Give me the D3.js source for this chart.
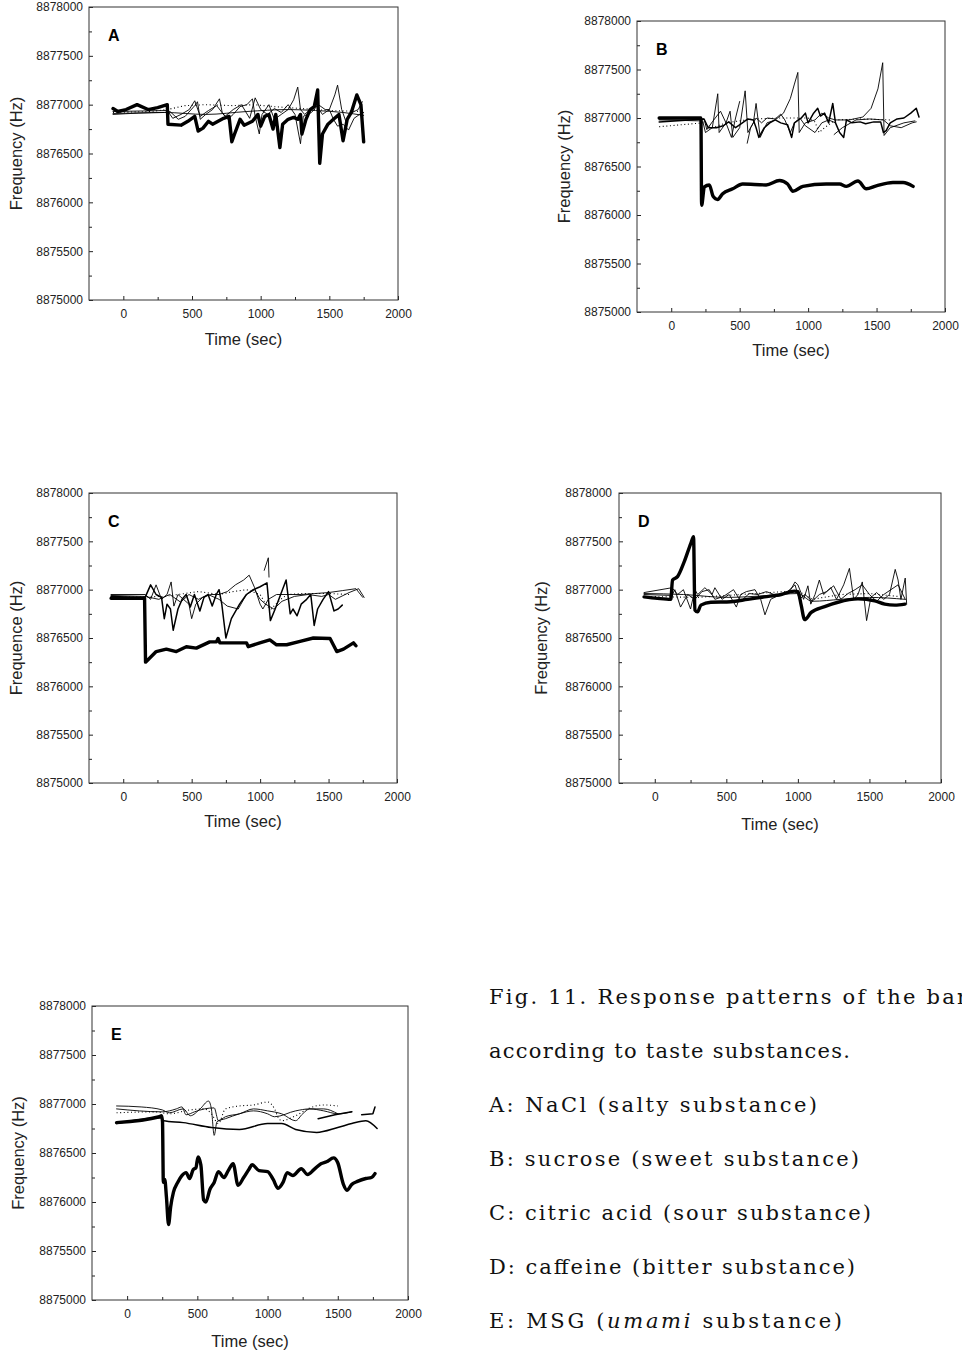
<!DOCTYPE html>
<html>
<head>
<meta charset="utf-8">
<script src="https://cdn.jsdelivr.net/npm/d3@7"></script>
<style>
  body { margin: 0; background: #fff; }
  svg { display: block; }
</style>
</head>
<body>
<div id="chart"></div>
<script>
// shared tick values
const xMajor = [0, 500, 1000, 1500, 2000];
const xMinor = [250, 750, 1250, 1750];
const yMajor = [8875000, 8875500, 8876000, 8876500, 8877000, 8877500, 8878000];
const yMinor = [8875250, 8875750, 8876250, 8876750, 8877250, 8877750];
const xDomain = [-250, 2000];
const yDomain = [8875000, 8878000];

// A: NaCl  [time (sec), frequency (Hz)]
const aThick = [[-75,8876960],[-40,8876930],[20,8876950],[100,8877000],[180,8876950],[250,8876970],[320,8877000],[325,8876800],[420,8876790],[470,8876830],[520,8876880],[545,8876730],[580,8876760],[620,8876830],[650,8876800],[690,8876830],[730,8876860],[770,8876880],[790,8876620],[810,8876700],[850,8876850],[880,8876790],[940,8876830],[980,8876900],[1000,8876780],[1030,8876880],[1060,8876900],[1090,8876750],[1110,8876900],[1140,8876560],[1160,8876800],[1200,8876850],[1240,8876870],[1270,8876850],[1290,8876900],[1300,8876700],[1330,8876850],[1360,8876950],[1390,8876980],[1415,8877150],[1430,8876400],[1450,8876700],[1490,8876800],[1530,8876850],[1570,8876900],[1600,8876630],[1630,8876850],[1660,8876920],[1700,8877100],[1730,8877000],[1750,8876620]];
const aThin1 = [[-75,8876910],[300,8876920],[340,8876930],[400,8876850],[450,8876880],[520,8876990],[540,8877030],[560,8876850],[600,8876900],[650,8876950],[700,8877060],[720,8876920],[760,8876850],[800,8876900],[850,8876980],[900,8877000],[940,8877060],[960,8876880],[990,8876700],[1010,8876900],[1060,8877000],[1100,8876850],[1150,8876900],[1200,8876950],[1240,8877050],[1270,8877180],[1290,8876950],[1320,8876900],[1360,8876950],[1400,8877000],[1450,8876900],[1500,8876950],[1540,8877100],[1560,8877200],[1590,8876950],[1620,8876830],[1650,8876900],[1680,8876930],[1710,8876950],[1740,8877030]];
const aThin2 = [[-75,8876930],[320,8876940],[360,8876860],[420,8876900],[480,8876950],[520,8877040],[560,8876880],[620,8876940],[680,8876990],[740,8876880],[800,8876950],[860,8877000],[920,8876860],[960,8877070],[1000,8876950],[1050,8876900],[1100,8876960],[1150,8876920],[1200,8877000],[1250,8876900],[1290,8876600],[1310,8876880],[1370,8876920],[1420,8877000],[1470,8876950],[1500,8876950],[1530,8876850],[1560,8876780],[1600,8876800],[1640,8876740],[1680,8876860],[1720,8876900],[1750,8876920]];
const aSmooth = [[-75,8876900],[300,8876920],[600,8876900],[900,8876930],[1200,8876950],[1400,8876940],[1600,8876920],[1750,8876890]];
const aDotted = [[-75,8876920],[200,8876930],[320,8876950],[450,8876990],[600,8877000],[800,8876990],[950,8877000],[1100,8876980],[1300,8876960],[1500,8876940],[1750,8876930]];

// B: sucrose
const bThick = [[-88,8877000],[217,8877000],[222,8876100],[242,8876290],[278,8876310],[307,8876190],[339,8876160],[376,8876220],[449,8876270],[522,8876320],[693,8876310],[791,8876355],[850,8876320],[889,8876245],[962,8876295],[1132,8876320],[1230,8876320],[1279,8876295],[1364,8876350],[1425,8876270],[1498,8876300],[1620,8876335],[1694,8876335],[1767,8876295]];
const bThin1 = [[-88,8876980],[230,8876970],[250,8876850],[300,8876900],[340,8877250],[350,8876850],[400,8876950],[430,8877070],[450,8876800],[500,8876900],[540,8877280],[560,8876850],[600,8876950],[620,8877150],[650,8876800],[700,8876950],[760,8876980],[820,8877050],[870,8877200],[900,8877350],[925,8877470],[935,8876850],[980,8876950],[1050,8876980],[1100,8877050],[1150,8877000],[1200,8876980],[1300,8876980],[1400,8877010],[1460,8877100],[1510,8877300],[1545,8877570],[1555,8876820],[1600,8876900],[1700,8876950],[1780,8876970]];
const bThin2 = [[-88,8876990],[240,8876990],[260,8876880],[300,8876960],[360,8877070],[400,8876950],[440,8876800],[470,8877000],[500,8877170],null,[555,8876740],[580,8876900],[620,8877000],[660,8876950],[700,8877000],[760,8876990],[800,8877040],[830,8876980],[870,8876850],[900,8876950],[940,8877000],[980,8876920],[1050,8876850],[1100,8876950],[1150,8876980],[1200,8876950],null,[1190,8876830],[1250,8876900],[1350,8876980],[1450,8876990],[1550,8876980],[1600,8876920],[1680,8876900],[1760,8876950],[1790,8876960]];
const bMid = [[-88,8876960],[240,8876990],[270,8876900],[330,8876900],[380,8876920],[420,8876960],[470,8876900],[520,8876950],[560,8876990],[600,8876980],[620,8876900],[640,8876800],[680,8876900],[720,8876950],[760,8876980],[800,8876950],[850,8876930],[880,8876800],[900,8876950],[950,8877000],[980,8877050],[1000,8876950],[1040,8877050],[1070,8877100],[1090,8877020],[1120,8877050],[1150,8876950],[1180,8877150],[1200,8876950],[1230,8876850],[1260,8876800],[1280,8876980],[1320,8876950],[1380,8876960],[1420,8876940],[1480,8876960],[1530,8876960],[1550,8876850],[1570,8876870],[1600,8876950],[1650,8876990],[1700,8877000],[1750,8877050],[1790,8877100],[1810,8877010]];
const bDotted = [[-88,8876910],[230,8876950],[300,8876900],[400,8876950],[600,8876990],[800,8877000],[1000,8877000],[1050,8876960],[1080,8876850],[1120,8876900],[1200,8876980],[1400,8876990],[1600,8876980]];

// C: citric acid
const cThick = [[-89,8876910],[156,8876910],[163,8876250],[192,8876290],[241,8876360],[315,8876385],[388,8876360],[461,8876410],[534,8876395],[632,8876460],[681,8876460],[693,8876495],[706,8876450],[901,8876450],[913,8876410],[998,8876450],[1071,8876480],[1120,8876430],[1194,8876430],[1292,8876465],[1389,8876500],[1511,8876495],[1560,8876360],[1609,8876385],[1682,8876450],[1700,8876420]];
const cMid = [[-89,8876930],[160,8876920],[200,8877050],[240,8876950],[280,8876920],[300,8876700],[320,8876850],[345,8876800],[365,8876580],[400,8876800],[430,8876900],[460,8876950],[490,8876820],[520,8876950],[560,8876780],[590,8876920],[620,8876950],[650,8876830],[680,8876950],[700,8877000],[720,8876850],[750,8876500],[790,8876700],[850,8876850],[900,8876950],[950,8877000],[1000,8877030],[1050,8877070],[1075,8876680],[1110,8876800],[1150,8876950],[1190,8877100],[1220,8876750],[1240,8876800],[1270,8876730],[1300,8876850],[1340,8876900],[1370,8876950],[1395,8876630],[1420,8876800],[1460,8876900],[1500,8876980],[1540,8876780],[1570,8876800],[1600,8876840]];
const cThin1 = [[-89,8876950],[160,8876950],[200,8876900],[240,8877050],[280,8876900],[320,8876950],[350,8877080],[370,8876830],[400,8876950],[440,8876900],[480,8876850],[500,8876700],[530,8876850],[580,8876920],[640,8876950],[700,8876950],[760,8876980],[820,8877050],[880,8877100],[920,8877150],[960,8877020],[1000,8876850],[1020,8876800],[1060,8876900],[1120,8876950],[1200,8876950],[1300,8876950],[1400,8876960],[1500,8876970],[1600,8876990],[1700,8877010],[1750,8876920]];
const cThin2 = [[-89,8876940],[160,8876930],[260,8876900],[340,8876950],[420,8876870],[480,8876950],[550,8876900],[620,8876950],[700,8876900],[760,8876830],[840,8876800],[900,8876950],[960,8877000],[1000,8876900],[1040,8876850],[1100,8876800],[1160,8876880],[1250,8876930],[1350,8876950],[1450,8876930],[1500,8876950],[1550,8876900],[1650,8876970],[1720,8877010],[1760,8876920]];
const cFrag = [[1030,8877200],[1060,8877330],[1065,8877130]];
const cDotted = [[-89,8876920],[300,8876930],[400,8876950],[550,8876980],[700,8876950],[800,8876980],[900,8877000],[1000,8876950],[1050,8876830],[1080,8876800],[1150,8876900],[1200,8876950],[1300,8876960],[1500,8876960],[1650,8876950]];

// D: caffeine
const dThick = [[-75,8876925],[18,8876910],[112,8876900],[124,8877100],[159,8877135],[206,8877290],[252,8877480],[271,8877548],[280,8876790],[299,8876770],[322,8876840],[392,8876870],[532,8876875],[649,8876900],[766,8876925],[883,8876950],[976,8876985],[1000,8876980],[1023,8876840],[1047,8876690],[1093,8876765],[1187,8876825],[1280,8876870],[1420,8876905],[1537,8876885],[1607,8876850],[1678,8876840],[1748,8876850]];
const dThin1 = [[-75,8876970],[120,8877020],[160,8876950],[200,8877000],[250,8876800],[280,8877000],[300,8876950],[350,8877020],[400,8876950],[420,8877020],[470,8876900],[520,8876950],[570,8876820],[600,8876950],[640,8876980],[700,8877000],[740,8876900],[770,8876740],[810,8876900],[850,8876930],[900,8876950],[950,8877000],[980,8877080],[1000,8877050],[1040,8876900],[1070,8877040],[1090,8876850],[1120,8876950],[1150,8877100],[1180,8876950],[1230,8877020],[1270,8876900],[1320,8877050],[1360,8877220],[1390,8876900],[1420,8876950],[1450,8877080],[1480,8876680],[1510,8876920],[1550,8876970],[1600,8876900],[1640,8876950],[1680,8877210],[1700,8877100],[1720,8876900],[1750,8877120],[1760,8876850]];
const dThin2 = [[-75,8876950],[120,8876940],[140,8877000],[180,8876820],[230,8876950],[280,8876900],[330,8876980],[380,8877000],[420,8876900],[480,8876930],[550,8877000],[600,8876880],[660,8876960],[720,8876950],[780,8876980],[850,8876940],[920,8876970],[980,8877050],[1010,8876900],[1050,8876950],[1100,8876880],[1150,8876950],[1200,8876980],[1250,8877040],[1300,8876900],[1350,8876960],[1400,8877000],[1450,8877050],[1500,8876950],[1550,8876880],[1600,8876950],[1650,8877000],[1700,8877050],[1750,8876900]];
const dSmooth = [[-75,8876960],[200,8876950],[500,8876920],[800,8876940],[1000,8876960],[1100,8876880],[1300,8876900],[1500,8876920],[1750,8876900]];
const dDotted = [[-75,8876930],[300,8876920],[600,8876950],[800,8876970],[1000,8876990],[1100,8876900],[1300,8876950],[1500,8876960],[1700,8876930]];

// E: MSG
const eThick = [[-75,8876810],[230,8876870],[245,8876880],[252,8876820],[258,8876200],[268,8876230],[280,8876050],[295,8875770],[310,8875950],[330,8876100],[360,8876200],[390,8876270],[420,8876300],[445,8876240],[470,8876330],[490,8876350],[505,8876460],[525,8876380],[545,8876020],[560,8876000],[590,8876130],[620,8876200],[650,8876310],[690,8876250],[720,8876320],[755,8876390],[790,8876170],[830,8876250],[870,8876340],[890,8876380],[940,8876320],[1000,8876310],[1040,8876230],[1075,8876140],[1110,8876200],[1140,8876300],[1180,8876270],[1240,8876340],[1285,8876280],[1330,8876330],[1380,8876390],[1420,8876410],[1470,8876450],[1500,8876400],[1540,8876180],[1565,8876120],[1600,8876180],[1640,8876210],[1700,8876240],[1740,8876250],[1765,8876290]];
const eLow = [[-75,8876800],[240,8876860],[260,8876830],[400,8876810],[600,8876760],[800,8876740],[1000,8876800],[1100,8876800],[1200,8876740],[1350,8876710],[1500,8876760],[1600,8876800],[1700,8876830],[1780,8876750]];
const eThin1 = [[-75,8876980],[100,8876970],[250,8876940],[300,8876910],[400,8876950],[450,8876880],[520,8876950],[580,8877030],[600,8876950],[620,8876680],[640,8876820],[700,8876850],[800,8876900],[900,8876930],[1000,8876900],[1050,8876870],[1200,8876930],[1300,8876950],[1400,8876930],[1500,8876900],[1600,8876920]];
const eThin2 = [[-75,8876950],[250,8876920],[350,8876950],[390,8876970],[420,8876890],[480,8876920],[550,8876950],[620,8876960],[650,8876830],[700,8876870],[800,8876900],[900,8876950],[1000,8876930],[1100,8876900],[1200,8876830],[1250,8876900],[1300,8876950],[1400,8876950],[1500,8876900]];
const eFrag1 = [[1360,8876850],[1480,8876890],[1600,8876920]];
const eFrag2 = [[1670,8876890],[1750,8876900],[1765,8876970]];
const eDotted = [[-75,8876910],[200,8876920],[300,8876900],[450,8876940],[550,8876950],[600,8876900],[650,8876800],[700,8876950],[800,8876980],[900,8876990],[1000,8877020],[1050,8876950],[1080,8876850],[1100,8876830],[1200,8876880],[1300,8876960],[1400,8876990],[1500,8876980]];

const captionLines = [
  "Fig. 11. Response patterns of the bar",
  "according to taste substances.",
  "A: NaCl (salty substance)",
  "B: sucrose (sweet substance)",
  "C: citric acid (sour substance)",
  "D: caffeine (bitter substance)"
];
const captionLast = [["E: MSG (", false], ["umami", true], [" substance)", false]];

const styles = {
  thick: {w: 3.4, dash: null},
  mid:   {w: 1.5, dash: null},
  thin:  {w: 0.9, dash: null},
  dot:   {w: 1.1, dash: "1,2.6"}
};

// third entry: smooth the trace (the recorder drew these as curves)
const panels = [
  {id: "A", yTitle: "Frequency (Hz)", left: 89, top: 7, right: 398, bottom: 300, yt: 67, xt: 45,
   series: [[aDotted, "dot"], [aSmooth, "thin", true], [aThin2, "thin"], [aThin1, "thin"], [aThick, "thick"]]},
  {id: "B", yTitle: "Frequency (Hz)", left: 637, top: 21, right: 945, bottom: 312, yt: 67, xt: 44,
   series: [[bDotted, "dot"], [bThin2, "thin"], [bThin1, "thin"], [bMid, "mid"], [bThick, "thick", true]]},
  {id: "C", yTitle: "Frequence (Hz)", left: 89, top: 493, right: 397, bottom: 783, yt: 67, xt: 44,
   series: [[cDotted, "dot"], [cThin2, "thin"], [cThin1, "thin"], [cFrag, "thin"], [cMid, "mid"], [cThick, "thick"]]},
  {id: "D", yTitle: "Frequency (Hz)", left: 619, top: 493, right: 941, bottom: 783, yt: 72, xt: 47,
   series: [[dDotted, "dot"], [dSmooth, "thin", true], [dThin2, "thin"], [dThin1, "thin"], [dThick, "thick", true]]},
  {id: "E", yTitle: "Frequency (Hz)", left: 92, top: 1006, right: 408, bottom: 1300, yt: 68, xt: 47,
   series: [[eDotted, "dot", true], [eThin2, "thin", true], [eThin1, "thin", true], [eFrag1, "mid"], [eFrag2, "mid"], [eLow, "mid", true], [eThick, "thick", true]]}
];

const svg = d3.select("#chart").append("svg")
  .attr("width", 962).attr("height", 1352)
  .attr("viewBox", "0 0 962 1352");

const sans = "'Liberation Sans', Arial, Helvetica, sans-serif";

function styleAxis(s) {
  s.attr("font-family", sans).attr("font-size", 12);
  s.select(".domain").remove();
  s.selectAll(".tick line").attr("stroke", "#222");
  s.selectAll(".tick text").attr("fill", "#222");
}

panels.forEach(p => {
  const w = p.right - p.left, h = p.bottom - p.top;
  const g = svg.append("g").attr("transform", `translate(${p.left},${p.top})`);

  const x = d3.scaleLinear().domain(xDomain).range([0, w]);
  const y = d3.scaleLinear().domain(yDomain).range([h, 0]);

  // minor ticks (inside)
  g.append("g").attr("transform", `translate(0,${h})`)
    .call(d3.axisBottom(x).tickValues(xMinor).tickSize(-3).tickFormat(""))
    .call(styleAxis);
  g.append("g")
    .call(d3.axisLeft(y).tickValues(yMinor).tickSize(-3).tickFormat(""))
    .call(styleAxis);

  // major ticks + labels
  g.append("g").attr("transform", `translate(0,${h})`)
    .call(d3.axisBottom(x).tickValues(xMajor).tickSizeInner(-4).tickSizeOuter(0).tickPadding(9).tickFormat(d3.format("d")))
    .call(styleAxis);
  g.append("g")
    .call(d3.axisLeft(y).tickValues(yMajor).tickSizeInner(-4).tickSizeOuter(0).tickPadding(p.id === "D" ? 7 : 6).tickFormat(d3.format("d")))
    .call(styleAxis);

  // frame
  g.append("rect").attr("width", w).attr("height", h)
    .attr("fill", "none").attr("stroke", "#333").attr("stroke-width", 1);

  // traces
  const line = d3.line().defined(d => d != null).x(d => x(d[0])).y(d => y(d[1]));
  p.series.forEach(([data, kind, smooth]) => {
    const st = styles[kind];
    line.curve(smooth ? d3.curveMonotoneX : d3.curveLinear);
    g.append("path").datum(data)
      .attr("d", line)
      .attr("fill", "none")
      .attr("stroke", "#000")
      .attr("stroke-width", st.w)
      .attr("stroke-linejoin", "round")
      .attr("stroke-linecap", kind === "dot" ? "butt" : "round")
      .attr("stroke-dasharray", st.dash);
  });

  // panel letter
  g.append("text").attr("x", 19).attr("y", 34)
    .attr("font-family", sans).attr("font-size", 16).attr("font-weight", "bold")
    .text(p.id);

  // axis titles
  g.append("text").attr("x", w / 2).attr("y", h + p.xt)
    .attr("text-anchor", "middle").attr("font-family", sans).attr("font-size", 16.5).attr("fill", "#222")
    .text("Time (sec)");
  g.append("text")
    .attr("transform", `translate(${-p.yt},${h / 2}) rotate(-90)`)
    .attr("text-anchor", "middle").attr("font-family", sans).attr("font-size", 16.5).attr("fill", "#222")
    .text(p.yTitle);
});

// caption (first line runs off the right edge, as in the source page)
const serif = "'DejaVu Serif', 'Liberation Serif', serif";
const capLengths = [478, 361, 328, 370, 382, 366];
captionLines.forEach((t, i) => {
  svg.append("text").attr("x", 489).attr("y", 1004 + i * 54)
    .attr("font-family", serif).attr("font-size", 21).attr("fill", "#111")
    .attr("textLength", capLengths[i]).attr("lengthAdjust", "spacing")
    .text(t);
});
const last = svg.append("text").attr("x", 489).attr("y", 1004 + 6 * 54)
  .attr("font-family", serif).attr("font-size", 21).attr("fill", "#111")
  .attr("textLength", 353).attr("lengthAdjust", "spacing");
captionLast.forEach(([t, it]) => {
  last.append("tspan").attr("font-style", it ? "italic" : null).text(t);
});
</script>
</body>
</html>
